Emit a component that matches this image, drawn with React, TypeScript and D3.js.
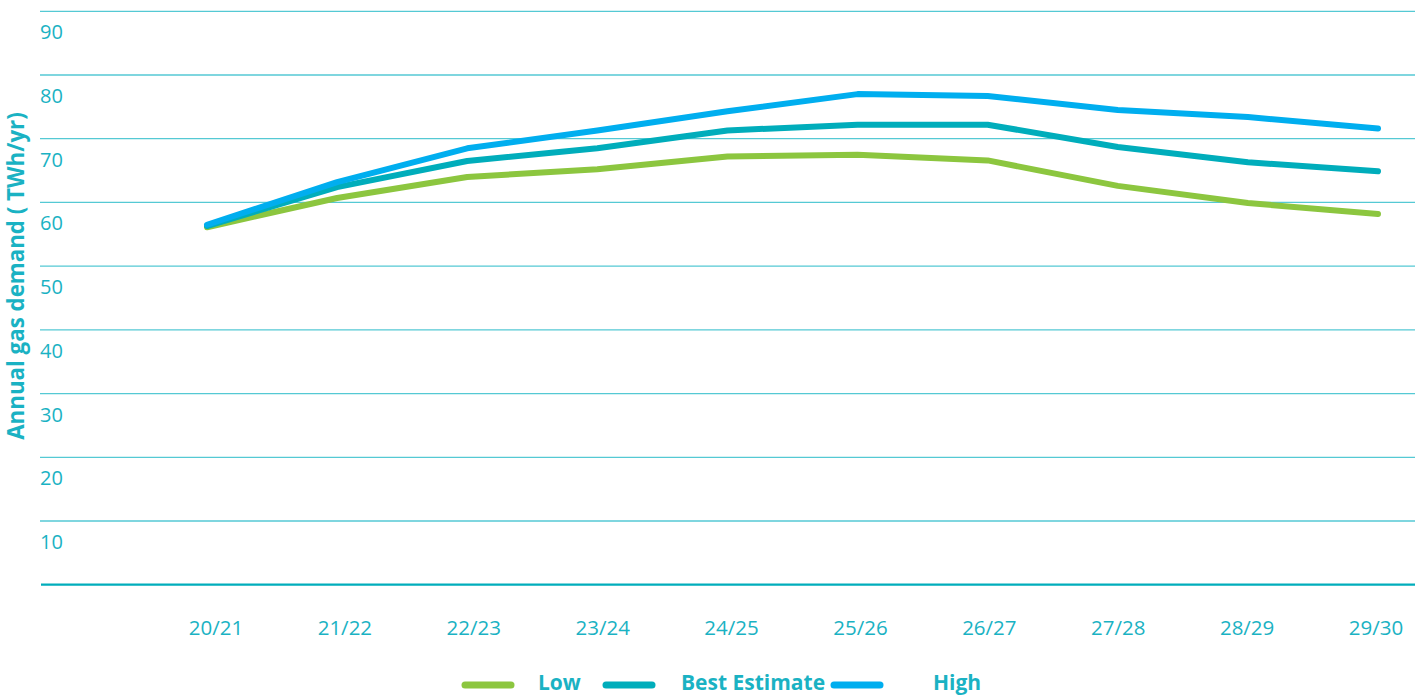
import React, { useEffect } from "react";
import * as d3 from "d3";

const categories = ["20/21", "21/22", "22/23", "23/24", "24/25", "25/26", "26/27", "27/28", "28/29", "29/30"];
const lowValues = [56.1, 60.7, 64.0, 65.2, 67.2, 67.5, 66.6, 62.6, 59.9, 58.2];
const bestValues = [56.3, 62.4, 66.5, 68.5, 71.3, 72.2, 72.2, 68.7, 66.3, 64.9];
const highValues = [56.5, 63.2, 68.5, 71.3, 74.3, 77.0, 76.7, 74.5, 73.4, 71.6];
const yTicks = [10, 20, 30, 40, 50, 60, 70, 80, 90];
const seriesNames = ["Low", "Best Estimate", "High"];
const seriesColors = ["#8cc63f", "#00adbb", "#00aeef"];
const yTitle = "Annual gas demand ( TWh/yr)";

const W = 1428;
const H = 697;
const FONT = "'Open Sans', 'Noto Sans', sans-serif";
const TEXT = "#1ab2c3";

export default function App() {
  useEffect(() => {
    document.body.style.margin = "0";
  }, []);

  const y = d3.scaleLinear().domain([0, 90]).range([584.7, 11.3]);
  const xData = d3.scalePoint<string>().domain(categories).range([207, 1378]);
  const xLabel = d3.scalePoint<string>().domain(categories).range([216, 1376]);
  const line = d3
    .line<number>()
    .x((_, i) => xData(categories[i]) as number)
    .y((d) => y(d));

  const series = [lowValues, bestValues, highValues];
  const legendItems = [
    { lx: 465, tx: 538 },
    { lx: 606, tx: 681 },
    { lx: 834, tx: 933 },
  ];

  return (
    <svg width={W} height={H} style={{ display: "block" }} fontFamily={FONT}>
      <rect width={W} height={H} fill="#ffffff" />
      {yTicks.map((t) => (
        <g key={t}>
          <line x1={40} x2={1415} y1={y(t)} y2={y(t)} stroke="#55c9d4" strokeWidth={1.3} />
          <text x={40} y={y(t) + 28} fontSize={20} fill={TEXT}>
            {t}
          </text>
        </g>
      ))}
      <line x1={41} x2={1415} y1={y(0)} y2={y(0)} stroke="#00adbb" strokeWidth={2.2} />
      {categories.map((c) => (
        <text key={c} x={xLabel(c)} y={635} fontSize={20.5} fill={TEXT} textAnchor="middle">
          {c}
        </text>
      ))}
      <text
        transform={`translate(24, 276) rotate(-90)`}
        fontSize={22.3}
        fontWeight="bold"
        fill={TEXT}
        textAnchor="middle"
      >
        {yTitle}
      </text>
      {series.map((s, i) => (
        <path
          key={seriesNames[i]}
          d={line(s) || ""}
          fill="none"
          stroke={seriesColors[i]}
          strokeWidth={6}
          strokeLinecap="round"
          strokeLinejoin="round"
        />
      ))}
      {seriesNames.map((n, i) => (
        <g key={n}>
          <line
            x1={legendItems[i].lx}
            x2={legendItems[i].lx + 46}
            y1={685}
            y2={685}
            stroke={seriesColors[i]}
            strokeWidth={7}
            strokeLinecap="round"
          />
          <text x={legendItems[i].tx} y={690} fontSize={21} fontWeight="bold" fill={TEXT}>
            {n}
          </text>
        </g>
      ))}
    </svg>
  );
}
